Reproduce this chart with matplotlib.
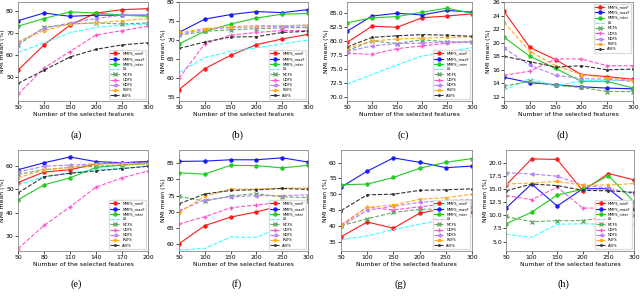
import matplotlib
matplotlib.use("Agg")
import matplotlib.pyplot as plt

# method names, shared by all panels
methods = ["MMFS_minF", "MMFS_maxF", "MMFS_inter", "LS", "MCFS",
           "UDFS", "NDFS", "RUFS", "AUFS"]
colors = ["#ff1a1a", "#1a1aff", "#22cc22", "#33ffff", "#66aa66",
          "#ff55cc", "#b580ff", "#ffaa22", "#333333"]
styles = ["-", "-", "-", "--", "--", "--", "--", "--", "--"]
markers = ["o", "o", "o", "", "x", "+", "<", "*", "."]

x_std = [50, 100, 150, 200, 250, 300]
x_e = [50, 80, 110, 140, 170, 200]

# NMI mean (%) per panel, rows follow `methods`
nmi_a = [[53, 64.5, 73.5, 79, 80.5, 81],
         [75.5, 79, 77.5, 78, 78, 78],
         [73, 76.5, 79.5, 79, 78, 77.5],
         [61, 65.5, 70, 72.5, 73.5, 74],
         [64.5, 72.5, 74, 74.5, 74, 74.5],
         [42, 54, 61.5, 69, 71, 73],
         [65.5, 72, 74.5, 76.5, 78, 78],
         [66, 71, 74, 74.5, 75.5, 76.5],
         [47, 53, 59, 62.5, 64.5, 65.5]]
nmi_b = [[57, 62.5, 66, 68.8, 70.3, 71.5],
         [72, 75.5, 76.7, 77.5, 77.2, 78],
         [69, 72.3, 74.2, 75.8, 76.8, 77],
         [61.5, 65.4, 67, 68, 69, 70],
         [71.3, 72.3, 72.7, 73, 73.2, 73.3],
         [60, 69, 71.3, 72, 72.5, 72.5],
         [71.5, 72.8, 73.3, 73.5, 73.5, 73.8],
         [72, 73, 73.5, 73.8, 73.8, 74],
         [67.8, 69.5, 70.8, 70.9, 72, 72.3]]
nmi_c = [[79.7, 82.6, 82.4, 84.1, 84.4, 84.8],
         [81.7, 84.4, 84.9, 84.6, 85.4, 85.1],
         [83.2, 84.1, 84.3, 85.1, 85.8, 84.9],
         [72.3, 74, 75.7, 77.3, 78, 78.8],
         [78.2, 80, 79.5, 80.2, 79.8, 79.8],
         [77.8, 77.6, 78.6, 79.1, 79.6, 79.8],
         [78.1, 79.1, 79.5, 79.6, 79.8, 79.7],
         [78.6, 80, 80.3, 80.5, 80.6, 80.7],
         [78.9, 80.6, 80.9, 81.1, 81, 80.8]]
nmi_d = [[24.6, 19.3, 17.5, 15.3, 15, 14.6],
         [14.9, 14.1, 13.8, 13.5, 13.3, 13.2],
         [20.8, 18, 16.2, 14.3, 14.3, 13.3],
         [13, 14.7, 13.6, 14.4, 14.4, 14.5],
         [13.6, 14.3, 13.7, 13.4, 12.8, 12.8],
         [15.2, 15.8, 17.6, 17.6, 16.6, 16.6],
         [19.2, 16.7, 15.2, 14.7, 14.6, 14.3],
         [23, 18.7, 16.6, 15.3, 14.8, 14.4],
         [18, 17.2, 16.4, 16.6, 16, 16.1]]
nmi_e = [[53, 57.5, 58.5, 61, 61.5, 62],
         [58.5, 61.5, 64, 62, 61.5, 62],
         [45.5, 52, 55, 59.5, 60.5, 61.5],
         [52, 55.5, 57, 58.5, 59, 60],
         [56.5, 58.5, 59.5, 60, 60.5, 61],
         [24.5, 34.5, 42.5, 51, 55, 58],
         [57.5, 60, 60.5, 61, 61.5, 61.5],
         [55, 58.5, 59.5, 61, 61, 61],
         [48.5, 55.5, 57, 58, 59, 60]]
nmi_f = [[60.2, 65.8, 68.4, 70, 72, 73.2],
         [85.5, 85.6, 86, 86, 86.6, 85.3],
         [82, 81.6, 84.3, 84.2, 83.5, 84.3],
         [58.3, 58.8, 62.3, 62.2, 65.5, 68.2],
         [74.8, 73.3, 74.9, 75.6, 74.6, 74.4],
         [66.3, 68.5, 71.3, 72.1, 73, 73.5],
         [70.3, 73.7, 74.6, 75, 75, 75.2],
         [69.8, 74.8, 77, 77, 77.3, 77.3],
         [72.5, 75.5, 76.6, 76.8, 77.2, 76.9]]
nmi_g = [[36.5, 41.2, 39.2, 44, 45.5, 44.5],
         [52.2, 57.3, 61.5, 60.1, 58.4, 58.9],
         [53, 53.2, 55.3, 58.2, 60.1, 61.3],
         [35.6, 36.8, 38.8, 40.5, 42, 43],
         [40, 42.2, 44.2, 45.2, 45.3, 46],
         [40.3, 45.9, 45, 46, 46.9, 47.1],
         [39.8, 44.9, 46.2, 47.4, 48, 48.3],
         [40, 45.8, 46.6, 48.4, 48.9, 50],
         [44.8, 49.8, 50, 51.2, 51.4, 51.7]]
nmi_h = [[15.8, 20.8, 20.7, 14.7, 18, 16.8],
         [11.4, 16, 11.8, 15.1, 15.1, 11.2],
         [8.4, 10.6, 13.9, 15, 17.6, 12.6],
         [6.4, 5.8, 8.3, 8.4, 8.3, 8.3],
         [9.8, 8.8, 9, 9, 9.8, 10.1],
         [13.8, 13, 15.4, 11.4, 11.4, 11.8],
         [18.2, 17.9, 17.5, 15.8, 15.2, 14.1],
         [16, 16.2, 16.5, 15.8, 15.8, 16.1],
         [14.7, 16, 15.7, 14.8, 14.7, 14.4]]

captions = ["(a)", "(b)", "(c)", "(d)", "(e)", "(f)", "(g)", "(h)"]

W, H = 640, 296
fig = plt.figure(figsize=(W / 100, H / 100), dpi=100)

# panel setup: pixel box (left, top, right, bottom), data, x, ylim, yticks, legend loc
panels = [
    ((18, 2, 148, 101), nmi_a, x_std, (39, 84), [50, 60, 70, 80], "lower right"),
    ((179, 2, 308, 101), nmi_b, x_std, (54, 80), [55, 60, 65, 70, 75, 80], "lower right"),
    ((347, 2, 472, 101), nmi_c, x_std, (69.3, 86.9), [70, 72.5, 75, 77.5, 80, 82.5, 85], "lower right"),
    ((504, 2, 633, 101), nmi_d, x_std, (11.4, 26), [12, 14, 16, 18, 20, 22, 24, 26], "upper right"),
    ((18, 150, 148, 251), nmi_e, x_e, (23.5, 67), [30, 40, 50, 60], "lower right"),
    ((179, 150, 308, 251), nmi_f, x_std, (58, 89), [60, 65, 70, 75, 80, 85], "lower right"),
    ((341, 150, 472, 251), nmi_g, x_std, (32, 64), [35, 40, 45, 50, 55, 60], "lower right"),
    ((506, 150, 634, 251), nmi_h, x_std, (3.2, 22.5), [5, 7.5, 10, 12.5, 15, 17.5, 20], "lower right"),
]

for i, (box, data, xs, ylim, yticks, loc) in enumerate(panels):
    l, t, r, b = box
    ax = fig.add_axes([l / W, 1 - b / H, (r - l) / W, (b - t) / H])
    for j, name in enumerate(methods):
        ax.plot(xs, data[j], color=colors[j], linestyle=styles[j],
                marker=markers[j] if markers[j] else None, markersize=2.2,
                linewidth=0.8, markerfacecolor="none" if j >= 5 else colors[j],
                label=name)
    ax.set_xlim(xs[0], xs[-1])
    ax.set_xticks(xs)
    ax.set_ylim(*ylim)
    ax.set_yticks(yticks)
    if any(v % 1 for v in yticks):
        ax.set_yticklabels([f"{v:.1f}" for v in yticks])
    ax.tick_params(labelsize=4.4, length=2, width=0.5, pad=1)
    for s in ax.spines.values():
        s.set_color("#888888")
        s.set_linewidth(0.6)
    ax.set_xlabel("Number of the selected features", fontsize=4.4, labelpad=1)
    ax.set_ylabel("NMI mean (%)", fontsize=4.4, labelpad=0.5)
    ax.legend(loc=loc, fontsize=2.6, handlelength=2.5, labelspacing=0.35,
              borderpad=0.4, frameon=True, framealpha=1, edgecolor="#dddddd",
              fancybox=False)
    cy = 135 if i < 4 else 284
    fig.text((l + r) / 2 / W - 0.01, 1 - cy / H, captions[i],
             fontsize=7.5, family="Liberation Serif", ha="center", va="center")

fig.savefig("out.png", dpi=100)
